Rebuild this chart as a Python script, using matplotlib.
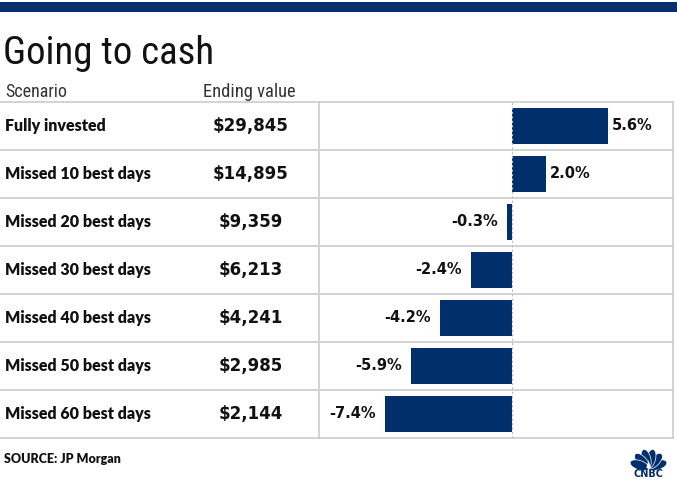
import matplotlib
matplotlib.use("Agg")
import matplotlib.pyplot as plt
from matplotlib.patches import Ellipse, Rectangle, Polygon
from matplotlib import font_manager
import numpy as np

scenarios = ["Fully invested", "Missed 10 best days", "Missed 20 best days",
             "Missed 30 best days", "Missed 40 best days", "Missed 50 best days",
             "Missed 60 best days"]
ending_values = ["$29,845", "$14,895", "$9,359", "$6,213", "$4,241", "$2,985", "$2,144"]
returns_pct = [5.6, 2.0, -0.3, -2.4, -4.2, -5.9, -7.4]

NAVY = "#002f6c"
GRID = "#cccccc"
TXT = "#111111"

def pick(*names):
    avail = {f.name for f in font_manager.fontManager.ttflist}
    return [n for n in names if n in avail] + ["DejaVu Sans"]

COND = pick("Liberation Sans Narrow", "Roboto Condensed", "Open Sans Condensed", "Roboto")
LAB = pick("Lato", "Roboto")
NUM = ["DejaVu Sans"]

W, H = 677, 482
fig = plt.figure(figsize=(W / 100, H / 100), dpi=100)
bg = fig.add_axes([0, 0, 1, 1])
bg.set_xlim(0, W)
bg.set_ylim(H, 0)
bg.axis("off")

# top band
bg.add_patch(Rectangle((0, 2), W, 10, color=NAVY, lw=0))

bg.text(3, 53, "Going to cash", fontsize=28, family=COND, color=TXT, va="center", ha="left")
bg.text(5, 92, "Scenario", fontsize=13, family=COND, color="#333333", va="center")
bg.text(203, 92, "Ending value", fontsize=13.3, family=COND, color="#333333", va="center")

top, rowh = 102, 48
n = len(scenarios)
for k in range(n + 1):
    y = top + rowh * k
    bg.plot([0, 673], [y, y], color=GRID, lw=1.2)
for x in (319, 673):
    bg.plot([x, x], [top, top + rowh * n], color=GRID, lw=1.2)

for i, (s, v) in enumerate(zip(scenarios, ending_values)):
    yc = top + rowh * i + rowh / 2
    bg.text(5, yc, s, fontsize=11.5, family=LAB, fontweight="heavy", color=TXT, va="center")
    bg.text(251, yc, v, fontsize=12, family=NUM, fontweight="bold", color=TXT, va="center", ha="center")

bg.text(4, 459, "SOURCE: JP Morgan", fontsize=9, family=LAB, fontweight="heavy", color=TXT, va="center")

# CNBC peacock logo
lg = fig.add_axes([628 / W, 1 - 478 / H, 41 / W, 32 / H])
lg.set_xlim(-1.28, 1.28)
lg.set_ylim(-0.62, 1.38)
lg.set_aspect("equal")
lg.axis("off")
for th in np.linspace(18, 162, 6):
    t = np.radians(th)
    lg.add_patch(Ellipse((0.6 * np.cos(t), 0.6 * np.sin(t)), 1.2, 0.58, angle=th,
                         facecolor=NAVY, edgecolor="white", lw=0.5))
lg.add_patch(Polygon([(-0.14, 0.0), (0.14, 0.0), (0.0, 0.5)], closed=True, color="white", lw=0))
lg.text(0, -0.36, "CNBC", fontsize=7, fontweight="heavy", family="DejaVu Sans", color=NAVY,
        ha="center", va="center")

# bar chart area
zero_px, ppp = 512, 17.15
left, right = 319, 673
ax = fig.add_axes([left / W, 1 - (top + rowh * n) / H, (right - left) / W, rowh * n / H])
ax.set_xlim(-(zero_px - left) / ppp, (right - zero_px) / ppp)
ax.set_ylim(n - 0.5, -0.5)
ax.axis("off")
ax.patch.set_alpha(0)
ax.barh(range(n), returns_pct, height=0.75, color=NAVY)
ax.axvline(0, color="#bbbbbb", lw=0.8, ls=(0, (2, 2)))
for i, v in enumerate(returns_pct):
    lab = f"{v:.1f}%"
    if v >= 0:
        ax.annotate(lab, (v, i), xytext=(4, 0), textcoords="offset pixels", ha="left", va="center",
                    fontsize=10.5, fontweight="bold", family=NUM, color=TXT)
    else:
        ax.annotate(lab, (v, i), xytext=(-9, 0), textcoords="offset pixels", ha="right", va="center",
                    fontsize=10.5, fontweight="bold", family=NUM, color=TXT)

fig.savefig("out.png", dpi=100)
